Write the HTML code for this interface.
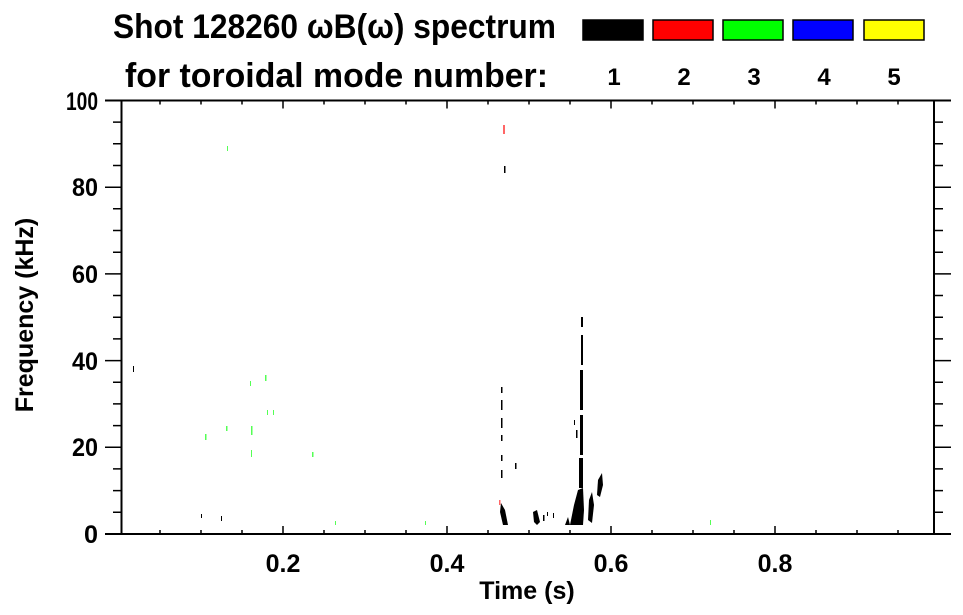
<!DOCTYPE html>
<html><head><meta charset="utf-8"><style>html,body{margin:0;padding:0;background:#fff}svg{display:block}</style></head>
<body>
<svg width="963" height="615" viewBox="0 0 963 615" xmlns="http://www.w3.org/2000/svg" font-family="Liberation Sans, Arial, sans-serif" font-weight="bold">
<rect width="963" height="615" fill="#fff"/>
<text x="113" y="38" font-size="34" textLength="443" lengthAdjust="spacingAndGlyphs">Shot 128260 ωB(ω) spectrum</text>
<text x="125" y="87" font-size="34" textLength="423" lengthAdjust="spacingAndGlyphs">for toroidal mode number:</text>
<g stroke="#000" stroke-width="1.5">
<rect x="583" y="20" width="60" height="20" fill="#000"/>
<rect x="653" y="20" width="60" height="20" fill="#f00"/>
<rect x="723" y="20" width="60" height="20" fill="#0f0"/>
<rect x="793" y="20" width="60" height="20" fill="#00f"/>
<rect x="864" y="20" width="60" height="20" fill="#ff0"/>
</g>
<g font-size="24" text-anchor="middle">
<text x="614" y="85">1</text><text x="684" y="85">2</text><text x="754" y="85">3</text><text x="824" y="85">4</text><text x="894" y="85">5</text>
</g>
<g stroke="#000" stroke-width="2" fill="none">
<line x1="105" y1="100.5" x2="951" y2="100.5"/>
<line x1="105" y1="534" x2="951" y2="534"/>
<line x1="121.5" y1="100" x2="121.5" y2="534"/>
<line x1="934" y1="100" x2="934" y2="534"/>
</g>
<g stroke="#000" stroke-width="1.5">
<path d="M105 534H121 M113 512.3H121 M113 490.6H121 M113 468.9H121 M105 447.3H121 M113 425.6H121 M113 403.9H121 M113 382.2H121 M105 360.6H121 M113 338.9H121 M113 317.2H121 M113 295.5H121 M105 273.9H121 M113 252.2H121 M113 230.5H121 M113 208.8H121 M105 187.2H121 M113 165.5H121 M113 143.8H121 M113 122.1H121 M105 100.5H121"/>
<path d="M934 512.3H943 M934 490.6H943 M934 468.9H943 M934 447.3H951 M934 425.6H943 M934 403.9H943 M934 382.2H943 M934 360.6H951 M934 338.9H943 M934 317.2H943 M934 295.5H943 M934 273.9H951 M934 252.2H943 M934 230.5H943 M934 208.8H943 M934 187.2H951 M934 165.5H943 M934 143.8H943 M934 122.1H943"/>
<path d="M160 534V530 M201 534V530 M242 534V530 M283 534V526 M324 534V530 M365 534V530 M406 534V530 M447 534V526 M488 534V530 M529 534V530 M570 534V530 M611 534V526 M652 534V530 M693 534V530 M734 534V530 M775 534V526 M816 534V530 M857 534V530 M898 534V530"/>
<path d="M160 100.5V104.5 M201 100.5V104.5 M242 100.5V104.5 M283 100.5V108.5 M324 100.5V104.5 M365 100.5V104.5 M406 100.5V104.5 M447 100.5V108.5 M488 100.5V104.5 M529 100.5V104.5 M570 100.5V104.5 M611 100.5V108.5 M652 100.5V104.5 M693 100.5V104.5 M734 100.5V104.5 M775 100.5V108.5 M816 100.5V104.5 M857 100.5V104.5 M898 100.5V104.5"/>
</g>
<g font-size="25" text-anchor="end">
<text x="98" y="543" textLength="14" lengthAdjust="spacingAndGlyphs">0</text>
<text x="98" y="456" textLength="26" lengthAdjust="spacingAndGlyphs">20</text>
<text x="98" y="370" textLength="26" lengthAdjust="spacingAndGlyphs">40</text>
<text x="98" y="283" textLength="26" lengthAdjust="spacingAndGlyphs">60</text>
<text x="98" y="196" textLength="26" lengthAdjust="spacingAndGlyphs">80</text>
<text x="98" y="110" textLength="32" lengthAdjust="spacingAndGlyphs">100</text>
</g>
<g font-size="25" text-anchor="middle">
<text x="283" y="572">0.2</text><text x="447" y="572">0.4</text><text x="611" y="572">0.6</text><text x="775" y="572">0.8</text>
<text x="527" y="599">Time (s)</text>
<text transform="translate(33,315) rotate(-90)">Frequency (kHz)</text>
</g>
<g fill="#000">
<path d="M581 317 h2 v10 h-2z M581 335 h2 v30 h-2z M580 370 h3 v40 h-3z M580 415 h3 v40 h-3z M579 458 h4 v30 h-4z"/>
<path d="M570 525 L574 505 L578 490 L583 488 L584 510 L583 525 Z"/>
<path d="M565 525 L568 517 L570 525Z"/>
<path d="M588 520 L589 500 L592 492 L594 505 L592 523Z"/>
<path d="M597 495 L598 480 L602 473 L603 485 L600 497Z"/>
<path d="M501 387 h1.5 v6 h-1.5z M501 400 h1.5 v10 h-1.5z M501 418 h1.5 v10 h-1.5z M501 435 h1.5 v6 h-1.5z M501 455 h1.5 v6 h-1.5z M501 470 h1.5 v8 h-1.5z"/>
<path d="M501 503 L505 510 L508 525 L503 525 L500 512Z"/>
<path d="M533 512 L537 510 L540 522 L537 525 L534 522Z"/>
<path d="M543 515 h1.5 v6 h-1.5z M553 513 h1 v5 h-1z M547 512 h1 v4 h-1z"/>
<path d="M515 463 h1.5 v6 h-1.5z M504 166 h1.5 v7 h-1.5z M133 366 h1 v6 h-1z M201 514 h1 v4 h-1z M221 516 h1 v5 h-1z M576 430 h1.5 v8 h-1.5z M574 420 h1 v5 h-1z"/>
</g>
<g fill="#f66">
<path d="M503 125 h2 v9 h-2z M499 500 h1.5 v5 h-1.5z"/>
</g>
<g fill="#5f5">
<path d="M227 146 h1 v5 h-1z M205 434 h1.5 v6 h-1.5z M226 426 h1.5 v5 h-1.5z M251 426 h1.5 v9 h-1.5z M251 450 h1 v7 h-1z M265 375 h1.5 v6 h-1.5z M250 381 h1 v5 h-1z M273 410 h1 v5 h-1z M267 410 h1 v5 h-1z M312 452 h1.5 v5 h-1.5z M335 521 h1 v4 h-1z M425 521 h1 v4 h-1z M710 520 h1 v5 h-1z"/>
</g>
</svg>
</body></html>
